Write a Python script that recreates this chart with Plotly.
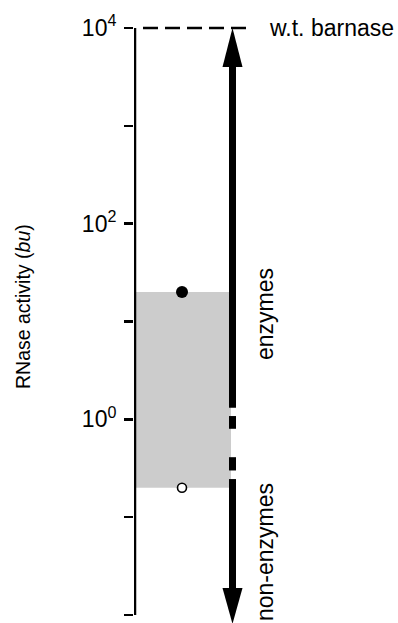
import numpy as np
import plotly.graph_objects as go

# ---------------- data ----------------
tick_values = [1e-2, 1e-1, 1e0, 1e1, 1e2, 1e3, 1e4]
tick_labels = ['10<sup>-2</sup>', '', '10<sup>0</sup>', '', '10<sup>2</sup>', '', '10<sup>4</sup>']
axis_min = 1e-2
axis_max = 1e4
wt_barnase = 1e4            # wild-type barnase activity (dashed line)
range_low = 0.2             # shaded range of activities
range_high = 20
enzyme_point = 20           # filled circle
nonenzyme_point = 0.2       # open circle
arrow_top = 1e4
arrow_bottom = 0.0081
arrow_gaps = [(1.31, 1.08), (0.80, 0.41), (0.30, 0.245)]   # breaks in the arrow shaft
label_top = 'w.t. barnase'
label_enz = 'enzymes'
label_non = 'non-enzymes'
y_title = 'RNase activity (<i>bu</i>)'

# ---------------- layout constants ----------------
W, H, ML = 398, 623, 134
Y_RANGE = [-2.082, 4.286]
PXD = H / (Y_RANGE[1] - Y_RANGE[0])       # pixels per decade
FONT = 'Liberation Sans, Arial, Helvetica, sans-serif'

axis_x = 1.0
box_x0, box_x1 = 1.0, 97.0
point_x = 48.0
arrow_x = 98.5
dash_x0, dash_x1 = 9.0, 116.0
head_top_len, head_bot_len, head_half_w = 39, 36, 10


def y_move(v, px):
    """value located px pixels below v on the log axis (negative = above)"""
    return 10 ** (np.log10(v) - px / PXD)


fig = go.Figure()

# shaded range
fig.add_trace(go.Scatter(
    x=[box_x0, box_x1, box_x1, box_x0, box_x0],
    y=[range_low, range_low, range_high, range_high, range_low],
    mode='lines', fill='toself', fillcolor='rgb(204,204,204)',
    line=dict(width=0), hoverinfo='skip', showlegend=False))

# y axis line
fig.add_trace(go.Scatter(
    x=[axis_x, axis_x], y=[axis_min, axis_max], mode='lines',
    line=dict(color='black', width=2.5), hoverinfo='skip', showlegend=False))

# dashed wild-type line
fig.add_trace(go.Scatter(
    x=[dash_x0, dash_x1], y=[wt_barnase, wt_barnase], mode='lines',
    line=dict(color='black', width=2.5, dash='15px,7px'),
    hoverinfo='skip', showlegend=False))

# arrow shaft with breaks
top_base = y_move(arrow_top, head_top_len)
bot_base = y_move(arrow_bottom, -head_bot_len)
breaks = [y_move(top_base, -3)]
for a, b in arrow_gaps:
    breaks += [a, b]
breaks.append(y_move(bot_base, 3))
sx, sy = [], []
for i in range(0, len(breaks), 2):
    sx += [arrow_x, arrow_x, None]
    sy += [breaks[i], breaks[i + 1], None]
fig.add_trace(go.Scatter(
    x=sx, y=sy, mode='lines', line=dict(color='black', width=7),
    hoverinfo='skip', showlegend=False, connectgaps=False))

# arrow heads
for tip, base in [(arrow_top, top_base), (arrow_bottom, bot_base)]:
    fig.add_trace(go.Scatter(
        x=[arrow_x - head_half_w, arrow_x, arrow_x + head_half_w, arrow_x - head_half_w],
        y=[base, tip, base, base], mode='lines', fill='toself',
        fillcolor='black', line=dict(width=0, color='black'),
        hoverinfo='skip', showlegend=False))

# points
fig.add_trace(go.Scatter(
    x=[point_x], y=[enzyme_point], mode='markers',
    marker=dict(size=12, color='black', line=dict(width=0)),
    hoverinfo='skip', showlegend=False))
fig.add_trace(go.Scatter(
    x=[point_x], y=[nonenzyme_point], mode='markers',
    marker=dict(size=9, color='white', line=dict(width=1.6, color='black')),
    hoverinfo='skip', showlegend=False))

fig.update_layout(
    width=W, height=H,
    margin=dict(l=ML, r=0, t=0, b=0, pad=0),
    paper_bgcolor='white', plot_bgcolor='white',
    font=dict(family=FONT, color='black'),
    xaxis=dict(range=[0, W - ML], visible=False, fixedrange=True),
    yaxis=dict(type='log', range=Y_RANGE, tickvals=tick_values, ticktext=tick_labels,
               ticks='outside', ticklen=9, tickwidth=2.5, tickcolor='black',
               showline=False, showgrid=False, zeroline=False,
               tickfont=dict(size=23, family=FONT, color='black'),
               ticklabelstandoff=3),
    annotations=[
        dict(x=dash_x1 + 17, y=np.log10(wt_barnase), xref='x', yref='y',
             text=label_top, showarrow=False, xanchor='left', yanchor='middle',
             font=dict(size=23, family=FONT)),
        dict(x=131, y=1 - 314 / H, xref='x', yref='paper', text=label_enz,
             textangle=-90, showarrow=False, xanchor='center', yanchor='middle',
             font=dict(size=23, family=FONT)),
        dict(x=131, y=1 - 552 / H, xref='x', yref='paper', text=label_non,
             textangle=-90, showarrow=False, xanchor='center', yanchor='middle',
             font=dict(size=23, family=FONT)),
        dict(x=(23 - ML) / (W - ML), y=1 - 307 / H, xref='paper', yref='paper',
             text=y_title, textangle=-90, showarrow=False,
             xanchor='center', yanchor='middle', font=dict(size=19.5, family=FONT)),
    ],
)

fig.write_html('out.html', config={'displayModeBar': False, 'staticPlot': True},
               post_script="document.body.style.margin='0';document.body.style.padding='0';")
